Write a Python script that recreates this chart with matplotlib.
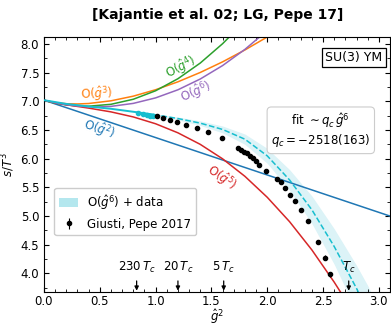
import matplotlib
matplotlib.use("Agg")
import matplotlib.pyplot as plt
from matplotlib.patches import Patch
from matplotlib.ticker import MultipleLocator

# perturbative orders
g2_lo = [0.0, 3.1]
s_g2 = [7.02, 5.00]

g2_o3 = [0.0, 0.05, 0.1, 0.2, 0.3, 0.4, 0.6, 0.8, 1.0, 1.2, 1.4, 1.6, 1.8, 2.0, 2.1]
s_g3 = [7.02, 6.995, 6.977, 6.958, 6.954, 6.962, 7.009, 7.090, 7.202, 7.340,
        7.503, 7.688, 7.895, 8.121, 8.241]

g2_o4 = [0.0, 0.05, 0.1, 0.2, 0.3, 0.4, 0.6, 0.8, 1.0, 1.2, 1.4, 1.6, 1.7]
s_g4 = [7.02, 6.992, 6.970, 6.938, 6.920, 6.915, 6.948, 7.036, 7.184, 7.394,
        7.667, 8.004, 8.199]

g2_o5 = [0.0, 0.1, 0.2, 0.3, 0.4, 0.6, 0.8, 1.0, 1.2, 1.4, 1.6, 1.8, 2.0,
         2.2, 2.4, 2.6, 2.7]
s_g5 = [7.02, 6.973, 6.940, 6.911, 6.882, 6.816, 6.728, 6.609, 6.451, 6.250,
        5.998, 5.693, 5.328, 4.903, 4.410, 3.849, 3.543]

g2_o6 = [0.0, 0.1, 0.2, 0.3, 0.4, 0.5, 0.6, 0.8, 1.0, 1.2, 1.4, 1.6, 1.8, 2.0]
s_g6 = [7.02, 6.975, 6.941, 6.918, 6.905, 6.903, 6.912, 6.964, 7.06, 7.201,
        7.389, 7.623, 7.905, 8.234]

# O(g^6) + fit to data
g2_fit = [0.0, 0.2, 0.4, 0.6, 0.85, 0.98]
s_fit = [7.02, 6.955, 6.91, 6.87, 6.805, 6.77]
g2_ext = [0.98, 1.2, 1.4, 1.6, 1.8, 2.0, 2.2, 2.4, 2.6, 2.8, 2.9, 3.0]
s_ext = [6.77, 6.70, 6.62, 6.51, 6.34, 6.05, 5.63, 5.11, 4.47, 3.74, 3.34, 2.88]
s_ext_lo = [6.755, 6.675, 6.58, 6.45, 6.25, 5.92, 5.45, 4.87, 4.16, 3.34, 2.89, 2.38]
s_ext_hi = [6.785, 6.725, 6.66, 6.57, 6.43, 6.18, 5.81, 5.35, 4.78, 4.14, 3.79, 3.38]

# lattice data, Giusti & Pepe 2017
g2_fitpts = [0.843, 0.888, 0.924, 0.951, 0.978]
s_fitpts = [6.79, 6.78, 6.76, 6.745, 6.74]
g2_data = [1.013, 1.067, 1.130, 1.193, 1.274, 1.372, 1.471, 1.596, 1.740, 1.767,
           1.794, 1.821, 1.848, 1.874, 1.901, 1.928, 1.991, 2.090, 2.126, 2.161,
           2.206, 2.251, 2.305, 2.368, 2.457, 2.520, 2.565]
s_data = [6.741, 6.707, 6.672, 6.638, 6.586, 6.534, 6.466, 6.362, 6.190, 6.155,
          6.121, 6.103, 6.052, 6.017, 5.966, 5.897, 5.793, 5.655, 5.586, 5.483,
          5.362, 5.259, 5.103, 4.914, 4.552, 4.276, 3.983]
s_err = [0.02, 0.02, 0.02, 0.02, 0.02, 0.02, 0.02, 0.02, 0.02, 0.02,
         0.02, 0.02, 0.02, 0.02, 0.02, 0.03, 0.03, 0.03, 0.03, 0.03,
         0.03, 0.03, 0.03, 0.03, 0.04, 0.04, 0.04]

# temperature markers
tc_pos = [0.83, 1.20, 1.61, 2.73]
tc_labels = [r'230$\,T_c$', r'20$\,T_c$', r'5$\,T_c$', r'$T_c$']

fig = plt.figure(figsize=(3.91, 3.25), dpi=100)
ax = fig.add_axes([0.1125, 0.102, 0.885, 0.784])

ax.fill_between(g2_ext, s_ext_lo, s_ext_hi, color='#dcf3f7', lw=0, zorder=1)
ax.plot(g2_lo, s_g2, color='tab:blue', lw=1.1, zorder=2)
ax.plot(g2_o3, s_g3, color='tab:orange', lw=1.1, zorder=2)
ax.plot(g2_o4, s_g4, color='tab:green', lw=1.1, zorder=2)
ax.plot(g2_o5, s_g5, color='tab:red', lw=1.1, zorder=2)
ax.plot(g2_o6, s_g6, color='tab:purple', lw=1.1, zorder=2)
ax.plot(g2_fit, s_fit, color='tab:cyan', lw=1.4, zorder=3)
ax.plot(g2_ext, s_ext, color='tab:cyan', lw=1.1, ls='--', zorder=3)
ax.plot(g2_fitpts, s_fitpts, 'o', color='tab:cyan', ms=3, zorder=4)
eb = ax.errorbar(g2_data, s_data, yerr=s_err, fmt='o', color='k', ms=3,
                 elinewidth=0.8, capsize=0, zorder=5, label='Giusti, Pepe 2017')

lab = dict(fontsize=8.5, ha='center', va='center')
ax.text(0.50, 6.52, r'O($\hat{g}^2$)', color='tab:blue', rotation=-18, **lab)
ax.text(0.475, 7.13, r'O($\hat{g}^3$)', color='tab:orange', rotation=3, **lab)
ax.text(1.23, 7.60, r'O($\hat{g}^4$)', color='tab:green', rotation=28, **lab)
ax.text(1.59, 5.67, r'O($\hat{g}^5$)', color='tab:red', rotation=-35, **lab)
ax.text(1.36, 7.17, r'O($\hat{g}^6$)', color='tab:purple', rotation=24, **lab)

for x, t in zip(tc_pos, tc_labels):
    ax.annotate('', xy=(x, 3.70), xytext=(x, 3.87),
                arrowprops=dict(arrowstyle='-|>', color='k', lw=0.9,
                                mutation_scale=6, shrinkA=0, shrinkB=0))
    ax.text(x, 3.98, t, fontsize=8.5, ha='center', va='bottom')

ax.text(0.978, 0.945, 'SU(3) YM', transform=ax.transAxes, fontsize=9,
        ha='right', va='top',
        bbox=dict(boxstyle='square,pad=0.25', fc='white', ec='black', lw=0.9))
ax.text(0.80, 0.634, 'fit $\\sim q_c\\,\\hat{g}^6$\n$q_c = -2518(163)$',
        transform=ax.transAxes, fontsize=8.5, ha='center', va='center',
        multialignment='center', zorder=6,
        bbox=dict(boxstyle='round,pad=0.35', fc='white', ec='0.8', lw=0.8))

band_handle = Patch(facecolor='#b4e7ee', edgecolor='none', label=r'O($\hat{g}^6$) + data')
ax.legend(handles=[band_handle, eb], loc=(0.03, 0.222), fontsize=8.5,
          framealpha=1, edgecolor='0.8', handlelength=1.6, borderpad=0.4)

ax.set_xlim(0, 3.1)
ax.set_ylim(3.68, 8.12)
ax.xaxis.set_major_locator(MultipleLocator(0.5))
ax.xaxis.set_minor_locator(MultipleLocator(0.1))
ax.yaxis.set_major_locator(MultipleLocator(0.5))
ax.yaxis.set_minor_locator(MultipleLocator(0.25))
ax.tick_params(which='both', direction='in', top=True, right=True, labelsize=8.5)
ax.tick_params(axis='x', pad=2.5)
ax.tick_params(which='major', length=3.5)
ax.tick_params(which='minor', length=2)
ax.set_xlabel(r'$\hat{g}^2$', fontsize=8.5)
ax.set_ylabel(r'$s/T^3$', fontsize=8.5)
ax.xaxis.set_label_coords(0.5, -0.058)
ax.yaxis.set_label_coords(-0.078, 0.5)

fig.text(0.557, 0.954, '[Kajantie et al. 02; LG, Pepe 17]', ha='center', va='center',
         fontsize=10, fontweight='bold')

fig.savefig('out.png', dpi=100)
